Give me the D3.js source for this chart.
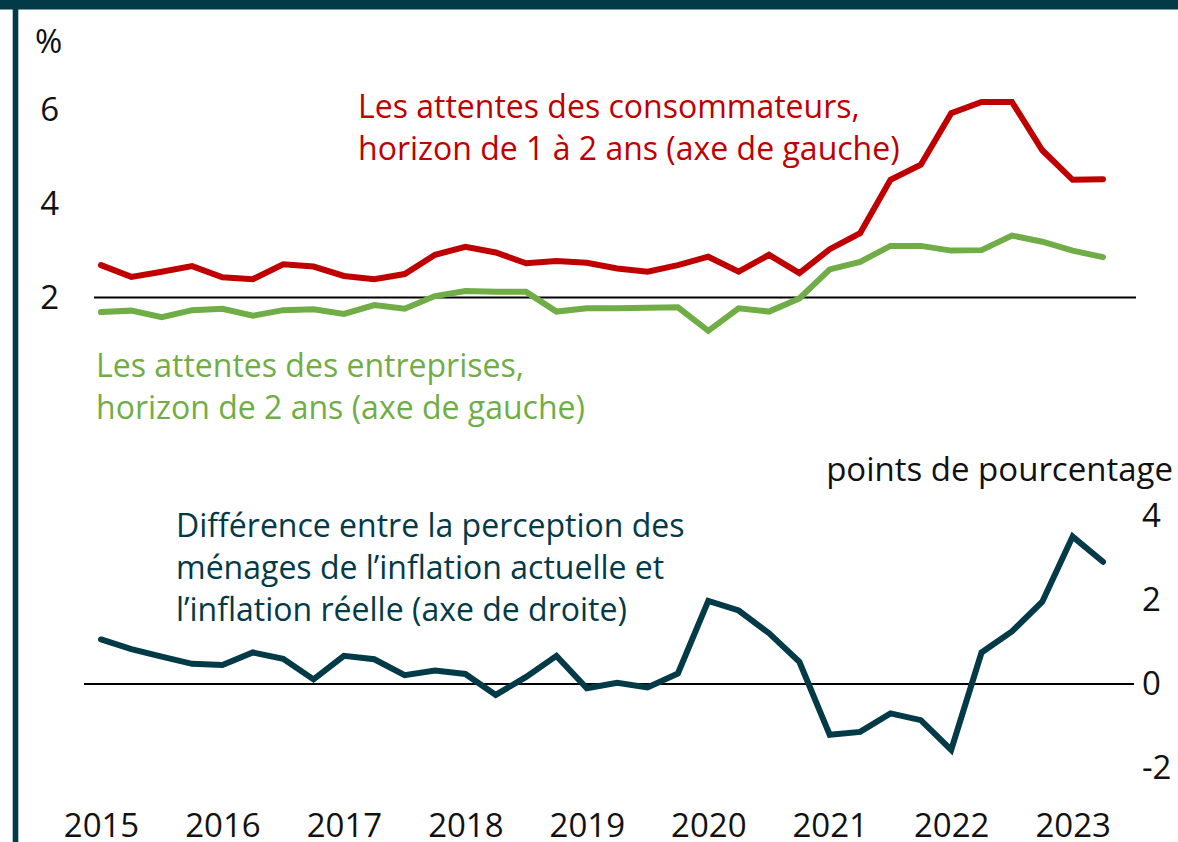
<!DOCTYPE html>
<html><head><meta charset="utf-8">
<script src="https://cdn.jsdelivr.net/npm/d3@7"></script>
<style>body{margin:0;background:#fff}svg{display:block}text{font-family:"Open Sans",sans-serif}</style>
</head><body><svg id="c" width="1178" height="842"></svg>
<script>
// Quarterly data, 2015Q1 – 2023Q2
const quarters = d3.range(34).map(i => `${2015 + Math.floor(i/4)}T${i%4+1}`);
const yearLabels = ["2015","2016","2017","2018","2019","2020","2021","2022","2023"];
const consumers = [2.69,2.44,2.55,2.67,2.43,2.39,2.71,2.66,2.46,2.39,2.50,2.91,3.08,2.96,2.73,2.78,2.74,2.62,2.55,2.69,2.87,2.55,2.91,2.52,3.03,3.37,4.51,4.83,5.93,6.17,6.17,5.14,4.51,4.52];
const business  = [1.69,1.72,1.58,1.73,1.76,1.61,1.73,1.75,1.65,1.84,1.76,2.03,2.14,2.12,2.12,1.70,1.77,1.77,1.78,1.79,1.29,1.77,1.70,1.98,2.60,2.76,3.10,3.10,3.00,3.01,3.32,3.19,3.00,2.86];
const perceptionGap = [1.06,0.83,0.65,0.48,0.45,0.75,0.60,0.11,0.67,0.59,0.21,0.32,0.24,-0.26,0.17,0.67,-0.10,0.03,-0.08,0.25,1.98,1.75,1.21,0.53,-1.21,-1.14,-0.70,-0.86,-1.57,0.75,1.25,1.96,3.51,2.91];
const leftTicks = [2,4,6];
const rightTicks = [-2,0,2,4];

const svg = d3.select("#c");
const frame = "#023a47";
svg.append("rect").attr("x",0).attr("y",0).attr("width",1178).attr("height",9.5).attr("fill",frame);
svg.append("rect").attr("x",12.7).attr("y",0).attr("width",5.6).attr("height",842).attr("fill",frame);

const x = d3.scaleLinear().domain([0, quarters.length-1]).range([101, 1103]);
const yL = d3.scaleLinear().domain([2, 6]).range([297.5, 109.9]);
const yR = d3.scaleLinear().domain([0, 4]).range([684, 516]);

const fs = 32, fa = 33;
// left axis
const gL = svg.append("g").attr("transform","translate(59,0)")
  .call(d3.axisLeft(yL).tickValues(leftTicks).tickSize(0).tickPadding(0).tickFormat(d => String(d)));
gL.select(".domain").remove();
gL.selectAll("text").attr("font-size",fa).attr("fill","#111").attr("font-family","Open Sans");
svg.append("text").attr("x",35).attr("y",53).attr("font-size",fa).attr("fill","#111").text("%");

// right axis
const gR = svg.append("g").attr("transform","translate(1142,0)")
  .call(d3.axisRight(yR).tickValues(rightTicks).tickSize(0).tickPadding(0).tickFormat(d => String(d)));
gR.select(".domain").remove();
gR.selectAll("text").attr("font-size",fa).attr("fill","#111").attr("font-family","Open Sans");
svg.append("text").attr("x",1173).attr("y",481).attr("text-anchor","end").attr("font-size",fa).attr("fill","#111").text("points de pourcentage");

// x axis labels
const gX = svg.append("g").attr("transform","translate(0,837)")
  .call(d3.axisBottom(x).tickValues(yearLabels.map((_,i)=>i*4)).tickSize(0).tickPadding(0).tickFormat((d,i)=>yearLabels[i]));
gX.select(".domain").remove();
gX.selectAll("text").attr("font-size",fa).attr("fill","#111").attr("font-family","Open Sans").attr("dy","0");

// reference lines
svg.append("line").attr("x1",94).attr("x2",1136).attr("y1",yL(2)).attr("y2",yL(2)).attr("stroke","#000").attr("stroke-width",2);
svg.append("line").attr("x1",84).attr("x2",1134).attr("y1",yR(0)).attr("y2",yR(0)).attr("stroke","#000").attr("stroke-width",2);

function drawLine(data, yScale, color){
  svg.append("path").datum(data)
    .attr("d", d3.line().x((d,i)=>x(i)).y(d=>yScale(d)))
    .attr("fill","none").attr("stroke",color).attr("stroke-width",6)
    .attr("stroke-linejoin","miter").attr("stroke-linecap","round");
}
drawLine(business, yL, "#70ad47");
drawLine(consumers, yL, "#c00000");
drawLine(perceptionGap, yR, "#023a47");

function label(lines, x0, y0, color){
  const t = svg.append("text").attr("x",x0).attr("y",y0).attr("font-size",fs).attr("fill",color);
  lines.forEach((l,i)=>t.append("tspan").attr("x",x0).attr("dy", i===0?0:42).text(l));
}
label(["Les attentes des consommateurs,","horizon de 1 à 2 ans (axe de gauche)"], 358, 118, "#c00000");
label(["Les attentes des entreprises,","horizon de 2 ans (axe de gauche)"], 96, 377, "#70ad47");
label(["Différence entre la perception des","ménages de l’inflation actuelle et","l’inflation réelle (axe de droite)"], 176, 537, "#023a47");
</script></body></html>
